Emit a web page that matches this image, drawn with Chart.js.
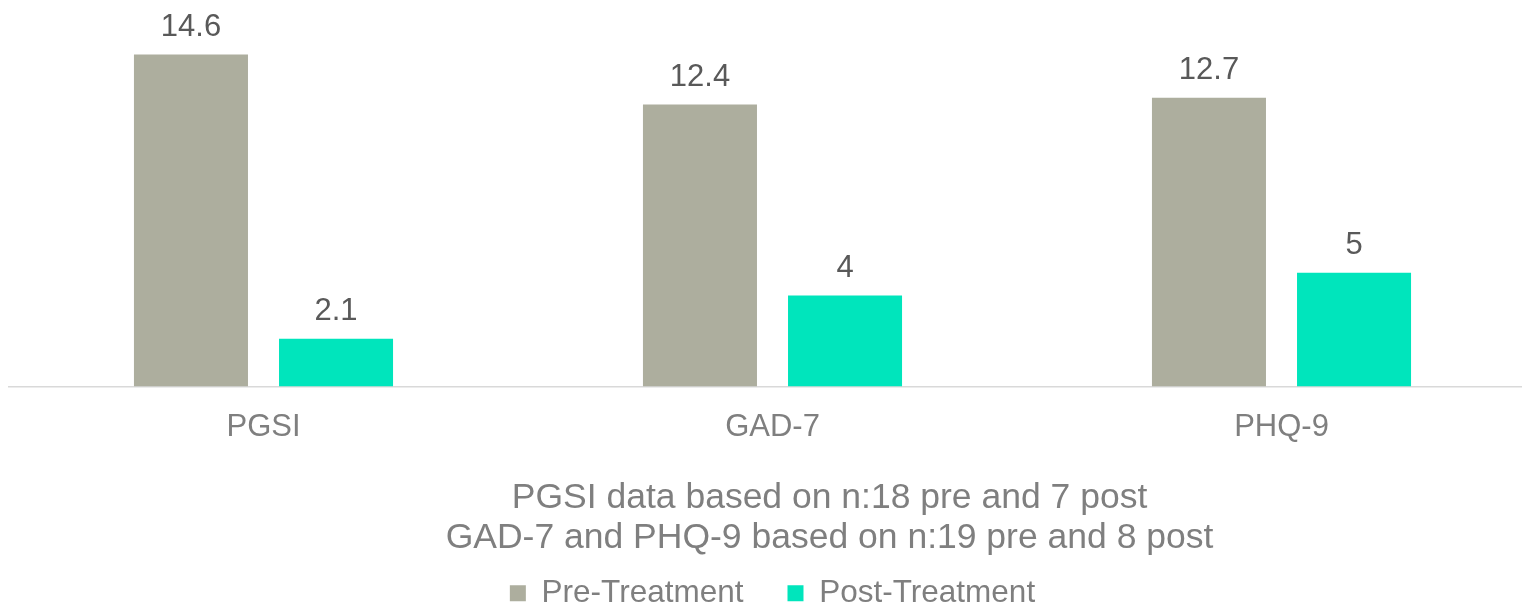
<!DOCTYPE html>
<html>
<head>
<meta charset="utf-8">
<title>Pre vs Post Treatment Scores</title>
<script src="https://cdn.jsdelivr.net/npm/chart.js@4.4.1/dist/chart.umd.min.js"></script>
<style>
  html, body { margin: 0; padding: 0; background: #fff; overflow: hidden; }
  .chart-wrap { position: relative; width: 1536px; height: 619px; }
</style>
</head>
<body>
<div class="chart-wrap">
  <canvas id="scoresChart"></canvas>
</div>
<script>
const categories = ['PGSI', 'GAD-7', 'PHQ-9'];
const preTreatment = [14.6, 12.4, 12.7];
const postTreatment = [2.1, 4, 5];
const noteLines = [
  'PGSI data based on n:18 pre and 7 post',
  'GAD-7 and PHQ-9 based on n:19 pre and 8 post'
];

const FONT = "'Liberation Sans', Arial, Helvetica, sans-serif";

// value labels above each bar
const barValues = {
  id: 'barValues',
  afterDatasetsDraw(chart) {
    const ctx = chart.ctx;
    ctx.save();
    ctx.font = '31px ' + FONT;
    ctx.fillStyle = '#595959';
    ctx.textAlign = 'center';
    ctx.textBaseline = 'alphabetic';
    chart.data.datasets.forEach((ds, i) => {
      chart.getDatasetMeta(i).data.forEach((bar, j) => {
        ctx.fillText(String(ds.data[j]), bar.x, bar.y - 19);
      });
    });
    ctx.restore();
  }
};

// sample-size note under the category labels
const sampleNote = {
  id: 'sampleNote',
  afterDraw(chart) {
    const ctx = chart.ctx;
    const top = chart.scales.x.top;
    const cx = (chart.chartArea.left + chart.chartArea.right) / 2 + 57;
    ctx.save();
    ctx.font = '35.5px ' + FONT;
    ctx.fillStyle = '#7f7f7f';
    ctx.textAlign = 'center';
    ctx.textBaseline = 'alphabetic';
    noteLines.forEach((line, i) => {
      ctx.fillText(line, cx, top + 121 + i * 40);
    });
    ctx.restore();
  }
};

new Chart(document.getElementById('scoresChart'), {
  type: 'bar',
  data: {
    labels: categories,
    datasets: [
      {
        label: 'Pre-Treatment',
        data: preTreatment,
        backgroundColor: '#adae9e',
        categoryPercentage: 0.57,
        barPercentage: 0.786
      },
      {
        label: 'Post-Treatment',
        data: postTreatment,
        backgroundColor: '#00e5bc',
        categoryPercentage: 0.57,
        barPercentage: 0.786
      }
    ]
  },
  options: {
    responsive: true,
    maintainAspectRatio: false,
    animation: false,
    layout: { padding: { left: 9, right: 0, top: 0, bottom: 0 } },
    scales: {
      x: {
        grid: { display: false, drawTicks: false },
        border: { display: true, color: '#d9d9d9', width: 1.5 },
        ticks: {
          color: '#7f7f7f',
          font: { family: FONT, size: 31 },
          padding: 22,
          maxRotation: 0
        },
        afterFit(scale) { scale.height = 147; }
      },
      y: {
        display: false,
        min: 0,
        max: 17
      }
    },
    plugins: {
      legend: {
        position: 'bottom',
        labels: {
          color: '#7f7f7f',
          font: { family: FONT, size: 31.5 },
          boxWidth: 16,
          boxHeight: 16,
          padding: 44
        }
      },
      tooltip: { enabled: false }
    }
  },
  plugins: [barValues, sampleNote]
});
</script>
</body>
</html>
